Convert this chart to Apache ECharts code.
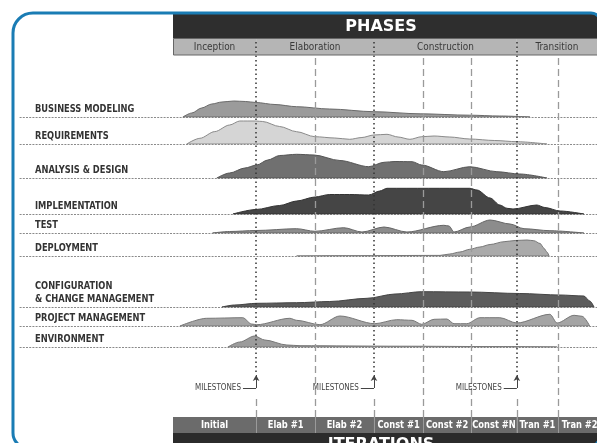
<!DOCTYPE html>
<html><head><meta charset="utf-8">
<script src="https://cdn.jsdelivr.net/npm/echarts@6/dist/echarts.min.js"></script>
<style>html,body{margin:0;padding:0;background:#fff;overflow:hidden}#c{width:597px;height:443px}</style>
</head><body><div id="c"></div>
<script>
// ---- timeline (0 = project start, 100 = right edge) ----
const phases = ['Inception', 'Elaboration', 'Construction', 'Transition'];
const milestones = [19.6, 47.4, 81.1];            // phase boundaries
const iterationBounds = [33.5, 59.0, 70.3, 90.8];  // iteration boundaries inside phases
const iterations = ['Initial', 'Elab #1', 'Elab #2', 'Const #1', 'Const #2', 'Const #N', 'Tran #1', 'Tran #2'];

// ---- disciplines ----
const disciplines = ['BUSINESS MODELING', 'REQUIREMENTS', 'ANALYSIS & DESIGN', 'IMPLEMENTATION', 'TEST',
  'DEPLOYMENT', 'CONFIGURATION\n& CHANGE MANAGEMENT', 'PROJECT MANAGEMENT', 'ENVIRONMENT'];

// effort curves: [time, relative effort]
const businessModeling = [[2.4,0],[4.5,4],[6.8,9],[9.2,13],[11.6,15],[14.4,16],[17.2,15.5],[19.6,14.5],[24.1,12.5],[29.2,10.3],[37.0,8],[47.4,5.3],[58.3,3.2],[70.0,1.8],[77.1,1],[84.2,0]];
const requirements = [[3.3,0],[6.4,5.7],[9.9,12.4],[13.4,19],[15.8,23],[19.6,23],[21.2,22.5],[25.2,17.5],[29.2,12.3],[33.5,7.3],[38.2,6],[41.7,4.7],[44.6,6.5],[47.4,9],[50.5,9.7],[53.1,7],[55.9,4.7],[58.7,7.3],[61.6,8],[65.3,7],[70.0,5],[75.9,3.5],[81.1,2.3],[88.2,0]];
const analysisDesign = [[10.4,0],[13.4,5],[17.0,10],[19.8,13],[22.4,18],[25.2,22.5],[29.2,23.7],[33.3,23],[39.4,17.5],[46.2,11.3],[49.8,15.7],[52.4,16.5],[56.4,16.3],[58.7,13],[63.9,6.3],[70.0,11.3],[76.4,6.3],[81.8,4],[88.2,0]];
const implementation = [[14.2,0],[19.6,4.5],[25.2,8.5],[29.2,13],[33.5,17],[37.0,19.5],[41.7,19.5],[46.2,19],[48.8,23],[50.5,25.7],[70.0,25.7],[71.7,24],[74.8,16],[77.1,9],[78.8,5.7],[80.2,5],[85.8,9],[87.7,6.5],[91.3,3],[96.9,0]];
const test = [[9.4,0],[13.4,1.5],[19.6,2.5],[29.2,4.3],[33.5,1.7],[40.3,5.3],[44.6,1],[49.8,6],[55.2,1],[63.9,7.7],[65.1,7],[66.3,1],[70.0,6],[74.8,13],[79.5,9],[82.8,4.3],[88.9,2.3],[96.9,0]];
const deployment = [[29.2,0],[41.7,0.3],[63.0,0.6],[65.3,2],[67.7,4],[70.0,6.7],[72.4,9],[74.8,11.5],[78.1,14.3],[80.7,15.5],[83.5,16],[85.1,15.3],[86.6,12.5],[87.5,7.7],[88.2,4],[88.7,0]];
const configChange = [[11.6,0],[14.6,2],[19.8,3.7],[29.2,4.3],[37.0,5.5],[45.8,8.7],[52.4,13],[58.7,15.3],[70.0,15],[81.8,13.5],[91.3,12],[96.9,11],[98.3,6],[99.3,0]];
const projectManagement = [[1.7,0],[8.0,7.7],[16.5,8.3],[18.6,2],[19.8,1.3],[27.6,7.7],[29.2,5.7],[34.7,1.3],[39.4,10],[47.6,2.3],[52.8,6.3],[56.4,5.7],[58.7,1.7],[61.6,6.7],[64.6,7],[66.3,2.3],[69.3,2.3],[72.4,8.3],[77.1,8.3],[81.1,3],[88.9,11.7],[90.6,3],[94.6,10.7],[96.5,9.7],[98.3,0]];
const environment = [[13.0,0],[15.8,5],[19.3,11],[21.7,7],[26.9,2],[30.0,1.3],[53.5,0.8],[77.1,0.4],[90.6,0]];

const curves = [businessModeling, requirements, analysisDesign, implementation, test, deployment, configChange, projectManagement, environment];

// ---- styling / layout ----
const baselines = [117, 144, 178, 214, 233, 256, 307, 326, 347];
const fills   = ['#9b9b9b', '#d5d5d5', '#707070', '#454545', '#8c8c8c', '#aaaaaa', '#5c5c5c', '#a4a4a4', '#9c9c9c'];
const strokes = ['#6a6a6a', '#8a8a8a', '#555555', '#333333', '#666666', '#777777', '#444444', '#777777', '#777777'];
const COND = '"DejaVu Sans Condensed","Liberation Sans Narrow",sans-serif';

const grids = [], xAxes = [], yAxes = [], series = [], graphics = [];
const hidden = {show:false};
function addGrid(g, xa, ya) {
  const i = grids.length;
  grids.push(g);
  xAxes.push(Object.assign({gridIndex:i, type:'value', splitLine:hidden, axisTick:hidden, axisLabel:hidden}, xa));
  yAxes.push(Object.assign({gridIndex:i, type:'value', show:false}, ya));
  return i;
}

// discipline rows
curves.forEach((data, k) => {
  const gi = addGrid({left:20, right:0, top:baselines[k] - 30, height:30},
    {min:-36, max:100, axisLine:{show:true, onZero:false, lineStyle:{color:'#8a8a8a', width:1, type:[1.2,2]}}},
    {min:0, max:30});
  series.push({type:'line', xAxisIndex:gi, yAxisIndex:gi, data:data, smooth:0.3, smoothMonotone:'x',
    symbol:'none', z:3, lineStyle:{color:strokes[k], width:1}, areaStyle:{color:fills[k], opacity:1}});
  series.push({type:'line', xAxisIndex:gi, yAxisIndex:gi, data:[[data[0][0],0],[data[data.length-1][0],0]],
    symbol:'none', z:4, lineStyle:{color:strokes[k], width:1}});
  graphics.push({type:'text', x:35, y:baselines[k] - 1.5, z:10, scaleX:0.88,
    style:{text:disciplines[k], fill:'#333', font:'bold 10.5px ' + COND, verticalAlign:'bottom', lineHeight:13}});
});

// band renderer (phase bar / iteration bar)
function bandRenderer(names, fill, color, font, sx) {
  return function (params, api) {
    const p0 = api.coord([api.value(0), 1]);
    const p1 = api.coord([api.value(1), 0]);
    return {type:'group', children:[
      {type:'rect', shape:{x:p0[0], y:p0[1], width:p1[0]-p0[0], height:p1[1]-p0[1]}, style:{fill:fill}},
      {type:'text', x:(p0[0]+p1[0])/2, y:(p0[1]+p1[1])/2 + 0.5, scaleX:sx,
        style:{text:names[params.dataIndex], fill:color, font:font, align:'center', verticalAlign:'middle'}}
    ]};
  };
}

// phase band
const phaseBounds = [0].concat(milestones, [100]);
const gP = addGrid({left:173, right:0, top:38, height:17}, {min:0, max:100, show:false}, {min:0, max:1});
series.push({type:'custom', xAxisIndex:gP, yAxisIndex:gP, z:1, silent:true,
  renderItem: bandRenderer(phases, '#b5b5b5', '#3a3a3a', '11px ' + COND, 0.9),
  encode:{x:[0,1]},
  data: phases.map((p, i) => [phaseBounds[i], phaseBounds[i+1]])});

// iteration band
const iterBounds = [0].concat(milestones, iterationBounds).sort((a,b)=>a-b).concat([101]);
const gI = addGrid({left:173, right:0, top:417, height:16}, {min:0, max:100, show:false}, {min:0, max:1});
series.push({type:'custom', xAxisIndex:gI, yAxisIndex:gI, z:1, silent:true, clip:false,
  renderItem: bandRenderer(iterations, '#6b6b6b', '#ffffff', 'bold 11px ' + COND, 0.84),
  encode:{x:[0,1]},
  data: iterations.map((p, i) => [iterBounds[i], iterBounds[i+1]]),
  markLine:{silent:true, symbol:'none', label:hidden, lineStyle:{color:'#9a9a9a', width:1, type:'solid'},
    data: iterBounds.slice(1, -1).map(x => ({xAxis:x}))}});

// milestone dotted lines
const gM = addGrid({left:173, right:0, top:38, height:334}, {min:0, max:100, show:false}, {min:0, max:1});
series.push({type:'line', xAxisIndex:gM, yAxisIndex:gM, data:[], z:6,
  markLine:{silent:true, symbol:'none', label:hidden, lineStyle:{color:'#333', width:1.5, type:[1.5,3]},
    data: milestones.map(x => ({xAxis:x}))}});

// iteration dashed lines
const gD = addGrid({left:173, right:0, top:55, height:362}, {min:0, max:100, show:false}, {min:0, max:1});
series.push({type:'line', xAxisIndex:gD, yAxisIndex:gD, data:[], z:6,
  markLine:{silent:true, symbol:'none', label:hidden, lineStyle:{color:'#9a9a9a', width:1.3, type:[7,4]},
    data: iterationBounds.map(x => ({xAxis:x}))}});

// milestone annotations (arrow + leader + label)
const gA = addGrid({left:173, right:0, top:375, height:13}, {min:0, max:100, show:false}, {min:0, max:1});
const annData = [];
milestones.forEach(m => {
  annData.push([{coord:[m,0], symbol:'none'}, {coord:[m,1], symbol:'arrow'}]);
  annData.push([{coord:[m-3.1,0], symbol:'none', label:{show:true, position:'start', formatter:'MILESTONES', distance:2}},
                {coord:[m,0], symbol:'none'}]);
});
series.push({type:'line', xAxisIndex:gA, yAxisIndex:gA, data:[], z:6,
  markLine:{silent:true, symbolSize:[5,6], label:{show:false, color:'#444', fontSize:8, fontFamily:COND},
    lineStyle:{color:'#444', width:1, type:'solid'}, data: annData}});

// lower dashed milestone lines
const gL = addGrid({left:173, right:0, top:395, height:22}, {min:0, max:100, show:false}, {min:0, max:1});
series.push({type:'line', xAxisIndex:gL, yAxisIndex:gL, data:[], z:6,
  markLine:{silent:true, symbol:'none', label:hidden, lineStyle:{color:'#9a9a9a', width:1.3, type:[7,4]},
    data: milestones.map(x => ({xAxis:x}))}});

// header / footer decoration
graphics.push({type:'rect', shape:{x:173, y:14, width:430, height:24}, style:{fill:'#2e2e2e'}, z:0});
graphics.push({type:'text', x:381, y:27, z:5, style:{text:'PHASES', fill:'#fff', font:'bold 16px "DejaVu Sans",sans-serif', align:'center', verticalAlign:'middle'}});
graphics.push({type:'rect', shape:{x:173.5, y:38.5, width:430, height:16.5}, style:{fill:'none', stroke:'#666', lineWidth:1}, z:8});
graphics.push({type:'rect', shape:{x:173, y:433, width:430, height:12}, style:{fill:'#2b2b2b'}, z:0});
graphics.push({type:'text', x:381, y:437, z:5, style:{text:'ITERATIONS', fill:'#fff', font:'bold 16px "DejaVu Sans",sans-serif', align:'center', verticalAlign:'top'}});
graphics.push({type:'rect', shape:{x:13, y:13, width:588, height:435, r:[20,10,15,15]}, style:{fill:'none', stroke:'#1a7cb4', lineWidth:3}, z:20});

const chart = echarts.init(document.getElementById('c'), null, {renderer:'canvas'});
chart.setOption({
  animation:false, backgroundColor:'#fff',
  grid:grids, xAxis:xAxes, yAxis:yAxes, series:series,
  graphic:{elements:graphics}
});
</script></body></html>
